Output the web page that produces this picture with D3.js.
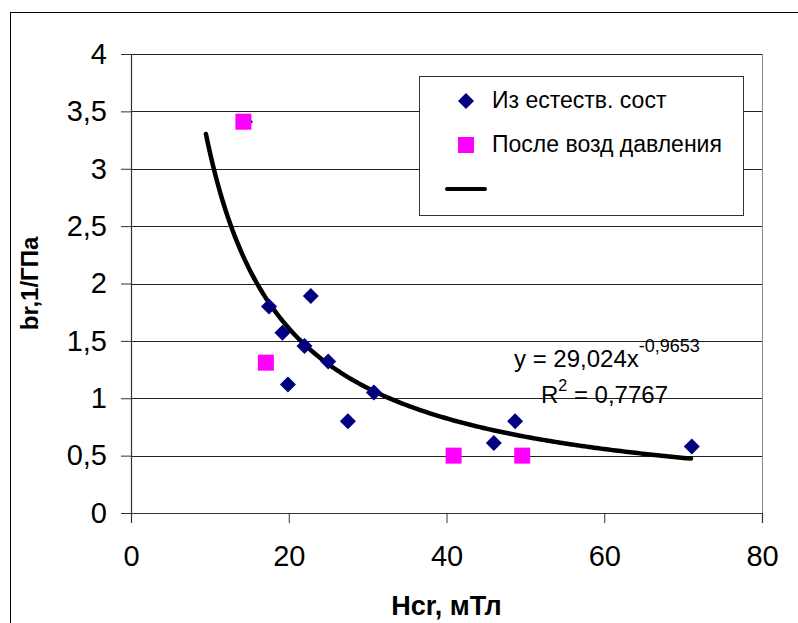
<!DOCTYPE html>
<html>
<head>
<meta charset="utf-8">
<script src="https://cdn.jsdelivr.net/npm/d3@7"></script>
<style>
	body { margin:0; background:#fff; }
	svg text { font-family: "Liberation Sans", Arial, sans-serif; }
</style>
</head>
<body>
<div id="chart"></div>
<script>
// Из естеств. сост (diamonds)
const naturalX = [14.45, 17.5, 19.2, 19.9, 22.0, 22.8, 25.0, 27.5, 30.8, 46.0, 48.7, 71.1];
const naturalY = [3.41, 1.80, 1.57, 1.12, 1.455, 1.89, 1.32, 0.80, 1.05, 0.61, 0.80, 0.58];

// После возд давления (squares)
const pressureX = [14.25, 17.1, 40.9, 49.6];
const pressureY = [3.41, 1.31, 0.5, 0.5];

// power trendline shown on the chart: y = 29,024x^-0,9653
const trendA = 29.024;
const trendB = -0.9653;
const trendRange = [9.5, 71];

const xTicks = [0, 20, 40, 60, 80];
const yTicks = [0, 0.5, 1, 1.5, 2, 2.5, 3, 3.5, 4];

const legendLabels = ['Из естеств. сост', 'После возд давления'];

const width = 798, height = 623;
const margin = {t:54, r:36, b:110, l:131};
const w = width - margin.l - margin.r;
const h = height - margin.t - margin.b;

const svg = d3.select('#chart').append('svg')
	.attr('width', width)
	.attr('height', height);

// outer chart frame (runs off the window on right and bottom)
svg.append('rect')
	.attr('x', 10.5).attr('y', 12.5)
	.attr('width', 820).attr('height', 700)
	.attr('fill', 'none')
	.attr('stroke', '#000');

const scaleX = d3.scaleLinear().domain([0, 80]).range([0, w]);
const scaleY = d3.scaleLinear().domain([0, 4]).range([h, 0]);

const plot = svg.append('g')
	.attr('transform', `translate(${margin.l},${margin.t})`);

// gridlines
plot.append('g')
	.selectAll('line')
	.data(yTicks.filter(d => d > 0))
	.enter().append('line')
	.attr('x1', 0).attr('x2', w)
	.attr('y1', d => Math.round(scaleY(d)) + 0.5)
	.attr('y2', d => Math.round(scaleY(d)) + 0.5)
	.attr('stroke', '#222');

// right border of plot area
plot.append('line')
	.attr('x1', w + 0.5).attr('x2', w + 0.5)
	.attr('y1', 0).attr('y2', h)
	.attr('stroke', '#888');

// axes
const axisX = d3.axisBottom(scaleX)
	.tickValues(xTicks)
	.tickSize(10)
	.tickPadding(22)
	.tickFormat(d3.format('d'));

const axisY = d3.axisLeft(scaleY)
	.tickValues(yTicks)
	.tickSize(10)
	.tickPadding(14)
	.tickFormat(d => String(d).replace('.', ','));

const axisXNode = plot.append('g')
	.attr('class', 'axis-x')
	.attr('transform', `translate(0,${h})`)
	.call(axisX);

const axisYNode = plot.append('g')
	.attr('class', 'axis-y')
	.call(axisY);

[axisXNode, axisYNode].forEach(a => {
	a.select('.domain').attr('stroke', '#333').attr('stroke-width', 1.2);
	a.selectAll('line').attr('stroke', '#333');
	a.selectAll('text')
		.style('font-family', '"Liberation Sans", Arial, sans-serif')
		.style('font-size', '29px')
		.attr('fill', '#000');
});

// trendline
const trendPts = d3.range(0, 201).map(i => {
	const x = trendRange[0] + (trendRange[1] - trendRange[0]) * i / 200;
	return [x, trendA * Math.pow(x, trendB)];
});

plot.append('path')
	.datum(trendPts)
	.attr('d', d3.line().x(d => scaleX(d[0])).y(d => scaleY(d[1])))
	.attr('fill', 'none')
	.attr('stroke', '#000')
	.attr('stroke-width', 4.5)
	.attr('stroke-linecap', 'round');

// markers
const diamond = d3.symbol().type(d3.symbolSquare).size(128);

plot.append('g')
	.selectAll('path')
	.data(naturalX.map((x, i) => [x, naturalY[i]]))
	.enter().append('path')
	.attr('d', diamond)
	.attr('transform', d => `translate(${scaleX(d[0])},${scaleY(d[1])}) rotate(45)`)
	.attr('fill', '#000080');

plot.append('g')
	.selectAll('rect')
	.data(pressureX.map((x, i) => [x, pressureY[i]]))
	.enter().append('rect')
	.attr('x', d => scaleX(d[0]) - 8)
	.attr('y', d => scaleY(d[1]) - 8)
	.attr('width', 16).attr('height', 16)
	.attr('fill', '#ff00ff');

// equation
const eq = svg.append('text')
	.attr('x', 514).attr('y', 367)
	.style('font-size', '24px');
eq.append('tspan').text('y = 29,024x');
eq.append('tspan').attr('dy', -15).style('font-size', '18px').text('-0,9653');

const r2 = svg.append('text')
	.attr('x', 541).attr('y', 403)
	.style('font-size', '24px');
r2.append('tspan').text('R');
r2.append('tspan').attr('dy', -12).style('font-size', '16px').text('2');
r2.append('tspan').attr('dy', 12).text(' = 0,7767');

// legend
const legend = svg.append('g');
legend.append('rect')
	.attr('x', 419.5).attr('y', 76.5)
	.attr('width', 324).attr('height', 139)
	.attr('fill', '#fff')
	.attr('stroke', '#333');

legend.append('path')
	.attr('d', diamond)
	.attr('transform', 'translate(466,101) rotate(45)')
	.attr('fill', '#000080');

legend.append('rect')
	.attr('x', 458).attr('y', 137)
	.attr('width', 16).attr('height', 16)
	.attr('fill', '#ff00ff');

legend.append('line')
	.attr('x1', 447).attr('x2', 485)
	.attr('y1', 189).attr('y2', 189)
	.attr('stroke', '#000')
	.attr('stroke-width', 4)
	.attr('stroke-linecap', 'round');

legend.selectAll('.leg-text')
	.data(legendLabels)
	.enter().append('text')
	.attr('class', 'leg-text')
	.attr('x', 492)
	.attr('y', (d, i) => 108 + i * 44)
	.style('font-size', '23px')
	.text(d => d);

// axis titles
svg.append('text')
	.attr('x', margin.l + w / 2)
	.attr('y', 615)
	.attr('text-anchor', 'middle')
	.style('font-size', '27px')
	.style('font-weight', 'bold')
	.text('Hcr, мТл');

svg.append('text')
	.attr('transform', `translate(38,${margin.t + h / 2}) rotate(-90)`)
	.attr('text-anchor', 'middle')
	.style('font-size', '24px')
	.style('font-weight', 'bold')
	.text('br,1/ГПа');
</script>
</body>
</html>
